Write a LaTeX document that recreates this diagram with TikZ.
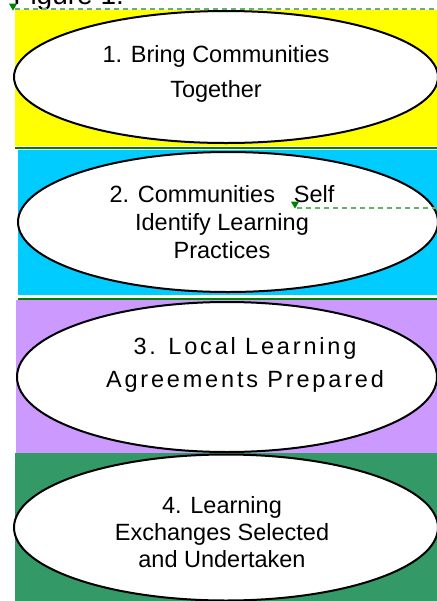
\documentclass[tikz,border=0pt]{standalone}
\usepackage{fontspec}
\setmainfont{Liberation Sans}
\usepackage{xcolor}
\usepackage{tikz}
\usetikzlibrary{shapes.geometric}
\usetikzlibrary{positioning}
\definecolor{bandyellow}{HTML}{FFFF00}
\definecolor{bandcyan}{HTML}{00CCFF}
\definecolor{bandviolet}{HTML}{CC99FF}
\definecolor{bandgreen}{HTML}{339966}
\definecolor{rulegreen}{HTML}{008000}
\definecolor{dashgreen}{HTML}{66B366}
\tikzset{
	stagenode/.style={ellipse, draw=black, fill=white, line width=1pt, inner sep=0pt},
	stagetext/.style={align=center, inner sep=0pt},
	sepline/.style={draw=rulegreen, line width=1pt},
	mydashed/.style={draw=dashgreen, line width=0.7pt, dash pattern=on 2.5pt off 2pt},
	anchormark/.style={regular polygon, regular polygon sides=3, shape border rotate=180, fill=rulegreen, inner sep=0pt, minimum size=4.6pt}
}

\begin{document}
\begin{tikzpicture}[x=0.5pt, y=-0.5pt]
		\useasboundingbox (0,0) rectangle (437,601);
		
		\node[anchor=base west, inner sep=0pt, font=\fontsize{14}{16}\selectfont] at (13,4) (figlabel) {Figure 1:};
		
		% coloured bands
		\fill[bandyellow] (15,10) rectangle (437,146);
		\fill[bandcyan] (18,150) rectangle (437,295);
		\fill[bandviolet] (16,300) rectangle (437,454);
		\fill[bandgreen] (15,453) rectangle (437,601);
		\draw[sepline] (15,148) -- (437,148);
		\draw[sepline] (18,298.5) -- (437,298.5);
		
		\node[stagenode, minimum width=212pt, minimum height=66pt] at (226,77) (bring) {};
		\node[stagenode, minimum width=210pt, minimum height=70pt] at (228,222) (identify) {};
		\node[stagenode, minimum width=210pt, minimum height=75pt] at (227,377) (agree) {};
		\node[stagenode, minimum width=212pt, minimum height=73pt] at (226,527.5) (exchange) {};
		
		\node[stagetext, font=\fontsize{11.75}{17.5}\selectfont] at (216,73.5) (bringt) {1. Bring Communities\\Together};
		\node[stagetext, font=\fontsize{11.75}{14}\selectfont] at (222,222.5) (identifyt) {2. Communities\hspace*{0.8em}Self\\Identify Learning\\Practices};
		\node[stagetext, font=\fontsize{11.75}{16.5}\selectfont\addfontfeature{LetterSpace=12}] at (245,364.5) (agreet) {3. Local Learning\\Agreements Prepared};
		\node[stagetext, font=\fontsize{11.75}{13.5}\selectfont] at (222,532) (exchanget) {4. Learning\\Exchanges Selected\\and Undertaken};
		
		% green anchor marks
		\coordinate (dashA) at (15,9);
		\coordinate (dashAend) at (437,9);
		\coordinate (dashB) at (297,208);
		\coordinate (dashBend) at (437,208);
		\draw[mydashed] (dashA) -- (dashAend);
		\draw[mydashed] (dashB) -- (dashBend);
		\node[anchormark] at (13,6) (markA) {};
		\node[anchormark] at (295,204) (markB) {};
	\end{tikzpicture}
\end{document}
